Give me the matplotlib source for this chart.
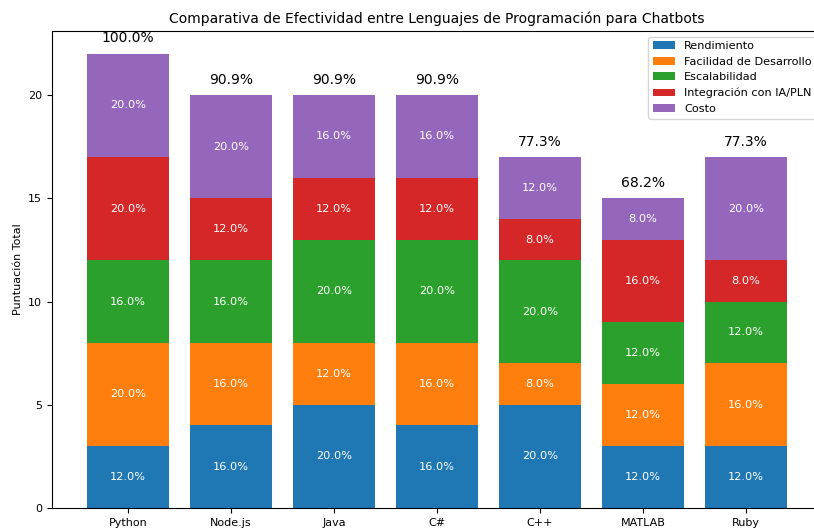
import numpy as np
import matplotlib
matplotlib.use("Agg")
from matplotlib import pyplot as plt

lenguajes = ["Python", "Node.js", "Java", "C#", "C++", "MATLAB", "Ruby"]
criterios = ["Rendimiento", "Facilidad de Desarrollo", "Escalabilidad",
             "Integración con IA/PLN", "Costo"]

rendimiento = [3, 4, 5, 4, 5, 3, 3]
facilidad = [5, 4, 3, 4, 2, 3, 4]
escalabilidad = [4, 4, 5, 5, 5, 3, 3]
integracion_ia = [5, 3, 3, 3, 2, 4, 2]
costo = [5, 5, 4, 4, 3, 2, 5]

series = [rendimiento, facilidad, escalabilidad, integracion_ia, costo]
colores = ["#1f77b4", "#ff7f0e", "#2ca02c", "#d62728", "#9467bd"]

fig = plt.figure(figsize=(8.14, 5.29), dpi=100)
# the screenshot cuts off the right edge of the axes
ax = fig.add_axes([0.0639, 0.0397, 0.946, 0.9017])

x = np.arange(len(lenguajes))
base = np.zeros(len(lenguajes))
for nombre, vals, col in zip(criterios, series, colores):
    vals = np.array(vals, dtype=float)
    ax.bar(x, vals, 0.8, bottom=base, color=col, label=nombre)
    for i, v in enumerate(vals):
        ax.text(x[i], base[i] + v / 2, f"{v / 25 * 100:.1f}%", ha='center',
                va='center', color='white', fontsize=8.2)
    base += vals

total_max = base.max()
for i, t in enumerate(base):
    ax.text(x[i], t + 0.4, f"{t / total_max * 100:.1f}%", ha='center',
            va='bottom', fontsize=10)

ax.set_xticks(x)
ax.set_xticklabels(lenguajes, fontsize=8)
ax.tick_params(axis='y', labelsize=8)
ax.set_ylabel("Puntuación Total", fontsize=8)
ax.set_title("Comparativa de Efectividad entre Lenguajes de Programación para Chatbots",
             fontsize=10)
ax.legend(loc='upper right', fontsize=8.1)

plt.savefig("out.png", dpi=100)
